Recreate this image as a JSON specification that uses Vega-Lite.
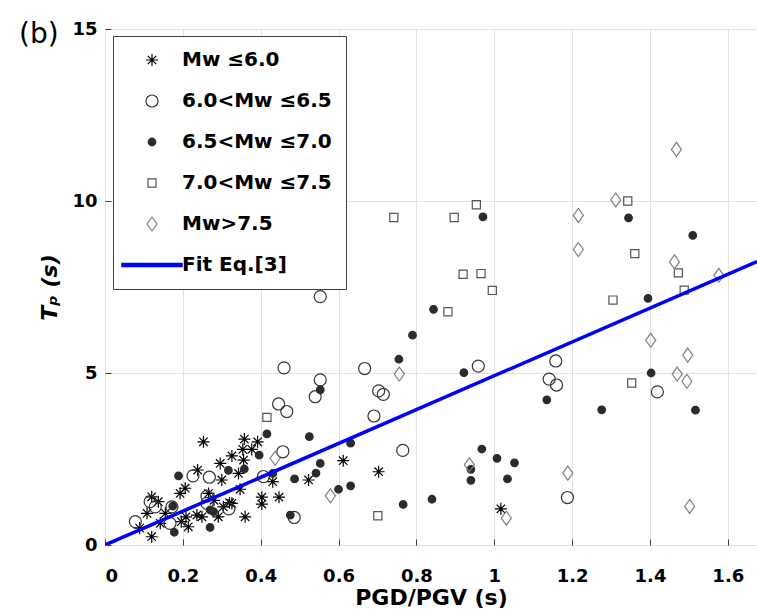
{
  "$schema": "https://vega.github.io/schema/vega-lite/v6.json",
  "autosize": {"type": "none"},
  "padding": {"left": 105, "top": 29, "right": 0, "bottom": 66},
  "width": 652,
  "height": 516,
  "background": "white",
  "title": {"text": "(b)", "anchor": "start", "frame": "group", "font": "DejaVu Sans", "fontSize": 28, "fontWeight": "normal", "color": "#000", "baseline": "alphabetic", "offset": 0, "dx": -86, "dy": 51},
  "config": {
    "view": {"stroke": "#404040", "strokeWidth": 1},
    "font": "DejaVu Sans",
    "axis": {"labelFont": "DejaVu Sans", "labelFontSize": 18, "labelFontWeight": "bold", "labelColor": "#000", "titleFont": "DejaVu Sans", "titleFontSize": 22, "titleFontWeight": "bold", "titleColor": "#000", "gridColor": "#e2e2e2", "gridWidth": 1, "tickColor": "#404040", "tickSize": -6, "domain": false}
  },
  "datasets": {
    "pts": [
      {"x": 0.253, "y": 3.00, "g": "Mw ≤6.0"},
      {"x": 0.358, "y": 3.08, "g": "Mw ≤6.0"},
      {"x": 0.392, "y": 3.00, "g": "Mw ≤6.0"},
      {"x": 0.354, "y": 2.78, "g": "Mw ≤6.0"},
      {"x": 0.377, "y": 2.78, "g": "Mw ≤6.0"},
      {"x": 0.326, "y": 2.59, "g": "Mw ≤6.0"},
      {"x": 0.356, "y": 2.47, "g": "Mw ≤6.0"},
      {"x": 0.296, "y": 2.37, "g": "Mw ≤6.0"},
      {"x": 0.343, "y": 2.08, "g": "Mw ≤6.0"},
      {"x": 0.431, "y": 1.84, "g": "Mw ≤6.0"},
      {"x": 0.403, "y": 1.39, "g": "Mw ≤6.0"},
      {"x": 0.403, "y": 1.19, "g": "Mw ≤6.0"},
      {"x": 0.447, "y": 1.39, "g": "Mw ≤6.0"},
      {"x": 0.238, "y": 2.18, "g": "Mw ≤6.0"},
      {"x": 0.300, "y": 1.89, "g": "Mw ≤6.0"},
      {"x": 0.206, "y": 1.65, "g": "Mw ≤6.0"},
      {"x": 0.193, "y": 1.50, "g": "Mw ≤6.0"},
      {"x": 0.266, "y": 1.50, "g": "Mw ≤6.0"},
      {"x": 0.326, "y": 1.21, "g": "Mw ≤6.0"},
      {"x": 0.304, "y": 1.11, "g": "Mw ≤6.0"},
      {"x": 0.320, "y": 1.23, "g": "Mw ≤6.0"},
      {"x": 0.291, "y": 0.82, "g": "Mw ≤6.0"},
      {"x": 0.360, "y": 0.82, "g": "Mw ≤6.0"},
      {"x": 0.236, "y": 0.87, "g": "Mw ≤6.0"},
      {"x": 0.214, "y": 0.53, "g": "Mw ≤6.0"},
      {"x": 0.196, "y": 0.68, "g": "Mw ≤6.0"},
      {"x": 0.208, "y": 0.82, "g": "Mw ≤6.0"},
      {"x": 0.142, "y": 0.63, "g": "Mw ≤6.0"},
      {"x": 0.120, "y": 1.40, "g": "Mw ≤6.0"},
      {"x": 0.137, "y": 1.26, "g": "Mw ≤6.0"},
      {"x": 0.108, "y": 0.92, "g": "Mw ≤6.0"},
      {"x": 0.155, "y": 0.92, "g": "Mw ≤6.0"},
      {"x": 0.089, "y": 0.49, "g": "Mw ≤6.0"},
      {"x": 0.120, "y": 0.24, "g": "Mw ≤6.0"},
      {"x": 0.249, "y": 0.82, "g": "Mw ≤6.0"},
      {"x": 0.347, "y": 1.62, "g": "Mw ≤6.0"},
      {"x": 0.280, "y": 1.30, "g": "Mw ≤6.0"},
      {"x": 0.523, "y": 1.89, "g": "Mw ≤6.0"},
      {"x": 0.612, "y": 2.45, "g": "Mw ≤6.0"},
      {"x": 0.703, "y": 2.13, "g": "Mw ≤6.0"},
      {"x": 1.017, "y": 1.05, "g": "Mw ≤6.0"},
      {"x": 0.553, "y": 7.22, "g": "6.0<Mw ≤6.5"},
      {"x": 0.460, "y": 5.15, "g": "6.0<Mw ≤6.5"},
      {"x": 0.667, "y": 5.13, "g": "6.0<Mw ≤6.5"},
      {"x": 0.959, "y": 5.20, "g": "6.0<Mw ≤6.5"},
      {"x": 0.553, "y": 4.80, "g": "6.0<Mw ≤6.5"},
      {"x": 0.540, "y": 4.31, "g": "6.0<Mw ≤6.5"},
      {"x": 0.703, "y": 4.48, "g": "6.0<Mw ≤6.5"},
      {"x": 0.715, "y": 4.38, "g": "6.0<Mw ≤6.5"},
      {"x": 0.691, "y": 3.75, "g": "6.0<Mw ≤6.5"},
      {"x": 0.765, "y": 2.75, "g": "6.0<Mw ≤6.5"},
      {"x": 0.446, "y": 4.10, "g": "6.0<Mw ≤6.5"},
      {"x": 0.467, "y": 3.88, "g": "6.0<Mw ≤6.5"},
      {"x": 0.457, "y": 2.71, "g": "6.0<Mw ≤6.5"},
      {"x": 0.407, "y": 1.99, "g": "6.0<Mw ≤6.5"},
      {"x": 0.486, "y": 0.80, "g": "6.0<Mw ≤6.5"},
      {"x": 0.226, "y": 2.01, "g": "6.0<Mw ≤6.5"},
      {"x": 0.268, "y": 1.97, "g": "6.0<Mw ≤6.5"},
      {"x": 0.262, "y": 1.42, "g": "6.0<Mw ≤6.5"},
      {"x": 0.262, "y": 1.21, "g": "6.0<Mw ≤6.5"},
      {"x": 0.116, "y": 1.26, "g": "6.0<Mw ≤6.5"},
      {"x": 0.129, "y": 1.11, "g": "6.0<Mw ≤6.5"},
      {"x": 0.172, "y": 1.11, "g": "6.0<Mw ≤6.5"},
      {"x": 0.078, "y": 0.68, "g": "6.0<Mw ≤6.5"},
      {"x": 0.167, "y": 0.63, "g": "6.0<Mw ≤6.5"},
      {"x": 0.318, "y": 1.05, "g": "6.0<Mw ≤6.5"},
      {"x": 1.158, "y": 5.35, "g": "6.0<Mw ≤6.5"},
      {"x": 1.141, "y": 4.82, "g": "6.0<Mw ≤6.5"},
      {"x": 1.160, "y": 4.65, "g": "6.0<Mw ≤6.5"},
      {"x": 1.419, "y": 4.45, "g": "6.0<Mw ≤6.5"},
      {"x": 1.188, "y": 1.38, "g": "6.0<Mw ≤6.5"},
      {"x": 0.971, "y": 9.54, "g": "6.5<Mw ≤7.0"},
      {"x": 0.844, "y": 6.85, "g": "6.5<Mw ≤7.0"},
      {"x": 0.790, "y": 6.10, "g": "6.5<Mw ≤7.0"},
      {"x": 0.755, "y": 5.40, "g": "6.5<Mw ≤7.0"},
      {"x": 0.922, "y": 5.01, "g": "6.5<Mw ≤7.0"},
      {"x": 0.553, "y": 4.51, "g": "6.5<Mw ≤7.0"},
      {"x": 0.416, "y": 3.23, "g": "6.5<Mw ≤7.0"},
      {"x": 0.525, "y": 3.15, "g": "6.5<Mw ≤7.0"},
      {"x": 0.631, "y": 2.96, "g": "6.5<Mw ≤7.0"},
      {"x": 0.553, "y": 2.37, "g": "6.5<Mw ≤7.0"},
      {"x": 0.542, "y": 2.09, "g": "6.5<Mw ≤7.0"},
      {"x": 0.600, "y": 1.62, "g": "6.5<Mw ≤7.0"},
      {"x": 0.631, "y": 1.72, "g": "6.5<Mw ≤7.0"},
      {"x": 0.766, "y": 1.18, "g": "6.5<Mw ≤7.0"},
      {"x": 0.840, "y": 1.33, "g": "6.5<Mw ≤7.0"},
      {"x": 0.968, "y": 2.79, "g": "6.5<Mw ≤7.0"},
      {"x": 0.940, "y": 2.20, "g": "6.5<Mw ≤7.0"},
      {"x": 0.940, "y": 1.88, "g": "6.5<Mw ≤7.0"},
      {"x": 1.007, "y": 2.52, "g": "6.5<Mw ≤7.0"},
      {"x": 1.052, "y": 2.39, "g": "6.5<Mw ≤7.0"},
      {"x": 1.034, "y": 1.92, "g": "6.5<Mw ≤7.0"},
      {"x": 0.396, "y": 2.61, "g": "6.5<Mw ≤7.0"},
      {"x": 0.317, "y": 2.17, "g": "6.5<Mw ≤7.0"},
      {"x": 0.358, "y": 2.21, "g": "6.5<Mw ≤7.0"},
      {"x": 0.431, "y": 2.08, "g": "6.5<Mw ≤7.0"},
      {"x": 0.487, "y": 1.92, "g": "6.5<Mw ≤7.0"},
      {"x": 0.476, "y": 0.87, "g": "6.5<Mw ≤7.0"},
      {"x": 0.189, "y": 2.01, "g": "6.5<Mw ≤7.0"},
      {"x": 0.174, "y": 1.13, "g": "6.5<Mw ≤7.0"},
      {"x": 0.270, "y": 1.02, "g": "6.5<Mw ≤7.0"},
      {"x": 0.279, "y": 0.97, "g": "6.5<Mw ≤7.0"},
      {"x": 0.270, "y": 0.51, "g": "6.5<Mw ≤7.0"},
      {"x": 0.178, "y": 0.37, "g": "6.5<Mw ≤7.0"},
      {"x": 1.345, "y": 9.51, "g": "6.5<Mw ≤7.0"},
      {"x": 1.510, "y": 9.00, "g": "6.5<Mw ≤7.0"},
      {"x": 1.395, "y": 7.17, "g": "6.5<Mw ≤7.0"},
      {"x": 1.135, "y": 4.22, "g": "6.5<Mw ≤7.0"},
      {"x": 1.276, "y": 3.93, "g": "6.5<Mw ≤7.0"},
      {"x": 1.403, "y": 5.00, "g": "6.5<Mw ≤7.0"},
      {"x": 1.517, "y": 3.92, "g": "6.5<Mw ≤7.0"},
      {"x": 0.742, "y": 9.52, "g": "7.0<Mw ≤7.5"},
      {"x": 0.897, "y": 9.52, "g": "7.0<Mw ≤7.5"},
      {"x": 0.954, "y": 9.89, "g": "7.0<Mw ≤7.5"},
      {"x": 0.920, "y": 7.87, "g": "7.0<Mw ≤7.5"},
      {"x": 0.966, "y": 7.89, "g": "7.0<Mw ≤7.5"},
      {"x": 0.995, "y": 7.40, "g": "7.0<Mw ≤7.5"},
      {"x": 0.881, "y": 6.78, "g": "7.0<Mw ≤7.5"},
      {"x": 0.416, "y": 3.71, "g": "7.0<Mw ≤7.5"},
      {"x": 0.701, "y": 0.85, "g": "7.0<Mw ≤7.5"},
      {"x": 1.343, "y": 10.00, "g": "7.0<Mw ≤7.5"},
      {"x": 1.361, "y": 8.47, "g": "7.0<Mw ≤7.5"},
      {"x": 1.473, "y": 7.91, "g": "7.0<Mw ≤7.5"},
      {"x": 1.488, "y": 7.41, "g": "7.0<Mw ≤7.5"},
      {"x": 1.305, "y": 7.12, "g": "7.0<Mw ≤7.5"},
      {"x": 1.353, "y": 4.71, "g": "7.0<Mw ≤7.5"},
      {"x": 0.756, "y": 4.97, "g": "Mw>7.5"},
      {"x": 0.437, "y": 2.52, "g": "Mw>7.5"},
      {"x": 0.579, "y": 1.43, "g": "Mw>7.5"},
      {"x": 0.936, "y": 2.33, "g": "Mw>7.5"},
      {"x": 1.031, "y": 0.78, "g": "Mw>7.5"},
      {"x": 1.468, "y": 11.50, "g": "Mw>7.5"},
      {"x": 1.312, "y": 10.03, "g": "Mw>7.5"},
      {"x": 1.216, "y": 9.58, "g": "Mw>7.5"},
      {"x": 1.216, "y": 8.59, "g": "Mw>7.5"},
      {"x": 1.463, "y": 8.23, "g": "Mw>7.5"},
      {"x": 1.577, "y": 7.84, "g": "Mw>7.5"},
      {"x": 1.402, "y": 5.95, "g": "Mw>7.5"},
      {"x": 1.497, "y": 5.52, "g": "Mw>7.5"},
      {"x": 1.470, "y": 4.97, "g": "Mw>7.5"},
      {"x": 1.495, "y": 4.76, "g": "Mw>7.5"},
      {"x": 1.189, "y": 2.09, "g": "Mw>7.5"},
      {"x": 1.502, "y": 1.12, "g": "Mw>7.5"}
    ],
    "fit": [
      {"x": 0, "y": 0},
      {"x": 1.675, "y": 8.24}
    ]
  },
  "layer": [
    {
      "data": {"name": "pts"},
      "mark": {"type": "point", "opacity": 1, "size": 196, "strokeWidth": 1.2},
      "encoding": {
        "x": {"field": "x", "type": "quantitative", "scale": {"domain": [0, 1.675], "nice": false, "zero": false},
              "axis": {"values": [0, 0.2, 0.4, 0.6, 0.8, 1, 1.2, 1.4, 1.6], "format": "~g", "title": "PGD/PGV (s)", "labelPadding": 28, "titlePadding": 2}},
        "y": {"field": "y", "type": "quantitative", "scale": {"domain": [0, 15], "nice": false},
              "axis": {"values": [0, 5, 10, 15], "title": "Tₚ (s)", "titleFontStyle": "italic", "labelPadding": 14, "titlePadding": 10}},
        "shape": {"field": "g", "type": "nominal",
          "scale": {"domain": ["Mw ≤6.0", "6.0<Mw ≤6.5", "6.5<Mw ≤7.0", "7.0<Mw ≤7.5", "Mw>7.5", "Fit Eq.[3]"],
                    "range": ["M0,-0.86L0,0.86M-0.86,0L0.86,0M-0.6,-0.6L0.6,0.6M-0.6,0.6L0.6,-0.6",
                              "M0.86,0A0.86,0.86,0,1,1,-0.86,0A0.86,0.86,0,1,1,0.86,0Z",
                              "M0.54,0A0.54,0.54,0,1,1,-0.54,0A0.54,0.54,0,1,1,0.54,0Z",
                              "M-0.58,-0.58L0.58,-0.58L0.58,0.58L-0.58,0.58Z",
                              "M0,-1L0.72,0L0,1L-0.72,0Z",
                              "M-4.3,-0.22L4.3,-0.22L4.3,0.22L-4.3,0.22Z"]},
          "legend": {"title": null, "orient": "none", "legendX": 8, "legendY": 7, "padding": 14, "strokeColor": "#404040", "fillColor": "white",
                     "labelFont": "DejaVu Sans", "labelFontSize": 20, "labelFontWeight": "bold", "labelColor": "#000", "labelLimit": 400,
                     "rowPadding": 21, "symbolOffset": 15, "labelOffset": 20, "symbolSize": 196, "symbolStrokeWidth": 1.2}},
        "stroke": {"field": "g", "type": "nominal",
          "scale": {"domain": ["Mw ≤6.0", "6.0<Mw ≤6.5", "6.5<Mw ≤7.0", "7.0<Mw ≤7.5", "Mw>7.5", "Fit Eq.[3]"],
                    "range": ["#000000", "#333333", "#2b2b2b", "#555555", "#808080", "#0000ff"]}},
        "fill": {"field": "g", "type": "nominal",
          "scale": {"domain": ["Mw ≤6.0", "6.0<Mw ≤6.5", "6.5<Mw ≤7.0", "7.0<Mw ≤7.5", "Mw>7.5", "Fit Eq.[3]"],
                    "range": ["transparent", "transparent", "#2b2b2b", "transparent", "transparent", "#0000ff"]}}
      }
    },
    {
      "data": {"name": "fit"},
      "mark": {"type": "line", "color": "#0000ff", "strokeWidth": 3.5, "clip": true},
      "encoding": {
        "x": {"field": "x", "type": "quantitative"},
        "y": {"field": "y", "type": "quantitative"}
      }
    }
  ]
}
